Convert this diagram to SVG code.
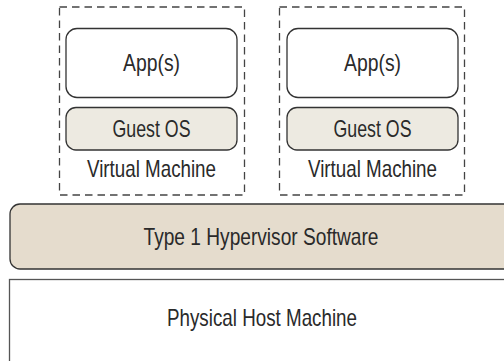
<svg xmlns="http://www.w3.org/2000/svg" width="504" height="361" viewBox="0 0 504 361">
<style>
.t{font-family:"Liberation Sans Narrow","Liberation Sans",Arial,sans-serif;font-size:24px;fill:#2a2a2a;text-anchor:middle}
.vm{fill:none;stroke:#444;stroke-width:1.3;stroke-dasharray:7.5 5}
.app{fill:#fff;stroke:#333;stroke-width:1.3}
.os{fill:#edeae1;stroke:#333;stroke-width:1.3}
.hyp{fill:#e5dccd;stroke:#333;stroke-width:1.3}
.phy{fill:#fff;stroke:#555;stroke-width:1.3}
</style>
<rect width="504" height="361" fill="#fff"/>
<g id="physical">
<rect class="phy" x="9.5" y="279.5" width="510" height="100"/>
<text class="t" x="262" y="326" textLength="190" lengthAdjust="spacingAndGlyphs">Physical Host Machine</text>
</g>
<g id="hypervisor">
<rect class="hyp" x="10" y="204" width="510" height="65" rx="10"/>
<text class="t" x="261" y="245" textLength="235" lengthAdjust="spacingAndGlyphs">Type 1 Hypervisor Software</text>
</g>
<g id="vm1">
<rect class="vm" x="59.5" y="7" width="185" height="188"/>
<text class="t" x="151.5" y="177" textLength="129" lengthAdjust="spacingAndGlyphs">Virtual Machine</text>
</g>
<g id="app1">
<rect class="app" x="66" y="28.5" width="171" height="69" rx="11"/>
<text class="t" x="151.5" y="70.5" textLength="57" lengthAdjust="spacingAndGlyphs">App(s)</text>
</g>
<g id="os1">
<rect class="os" x="66" y="107.5" width="171" height="42.5" rx="10"/>
<text class="t" x="151.5" y="136.5" textLength="78" lengthAdjust="spacingAndGlyphs">Guest OS</text>
</g>
<g id="vm2">
<rect class="vm" x="279.5" y="7" width="185" height="188"/>
<text class="t" x="372.5" y="177" textLength="129" lengthAdjust="spacingAndGlyphs">Virtual Machine</text>
</g>
<g id="app2">
<rect class="app" x="287" y="28.5" width="171" height="69" rx="11"/>
<text class="t" x="372.5" y="70.5" textLength="57" lengthAdjust="spacingAndGlyphs">App(s)</text>
</g>
<g id="os2">
<rect class="os" x="287" y="107.5" width="171" height="42.5" rx="10"/>
<text class="t" x="372.5" y="136.5" textLength="78" lengthAdjust="spacingAndGlyphs">Guest OS</text>
</g>
<g id="connectors"></g>
</svg>
